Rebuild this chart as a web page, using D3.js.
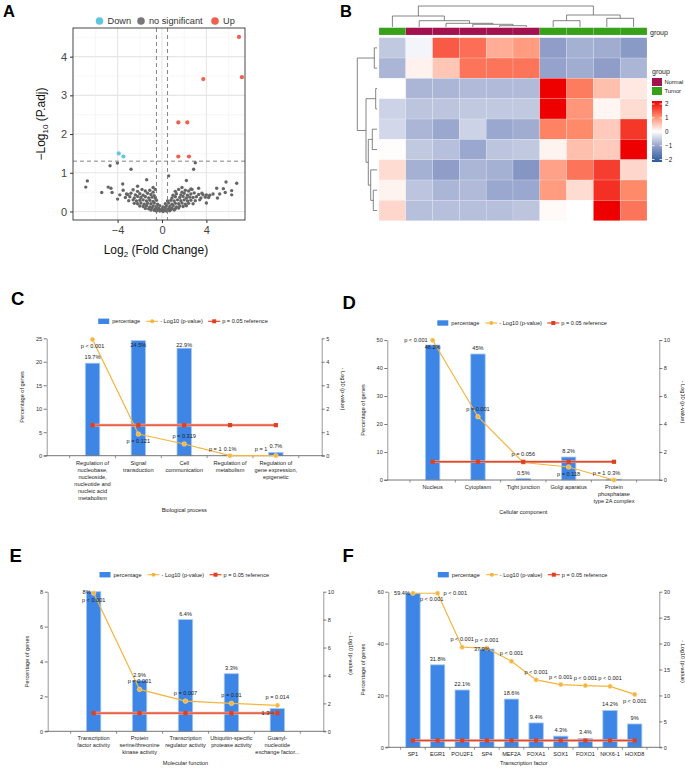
<!DOCTYPE html>
<html>
<head>
<meta charset="utf-8">
<title>volcano heatmap enrichment</title>
<style>
  body { margin: 0; background: #fff; }
  text { font-family: "Liberation Sans", Arial, sans-serif; }
</style>
</head>
<body>
<script src="https://cdnjs.cloudflare.com/ajax/libs/d3/7.8.5/d3.min.js"></script>
<script>
// ---------- panel A data (volcano) ----------
var upPoints = [[6.94,4.51],[7.2,3.47],[3.72,3.42],[1.47,2.30],[2.28,2.30],[1.47,1.42],[2.43,1.42]];
var downPoints = [[-3.9,1.50],[-3.48,1.42]];
var greyPoints = [
  [-4.68,1.18],[-4.02,1.25],[-2.79,1.09],[3.0,1.26],[2.85,1.09],[0.6,0.92],[-1.38,0.82],[2.2,0.80],
  [-6.73,0.79],[-6.87,0.63],[-5.43,0.49],[-4.85,0.63],[-4.6,0.60],[-4.5,0.49],[-3.54,0.71],[-4.0,0.32],
  [-3.8,0.43],[5.77,0.76],[6.73,0.73],[6.28,0.54],[6.28,0.43],[5.53,0.59],[4.93,0.60],[5.7,0.49],
  [4.6,0.45],[4.3,0.42],[4.0,0.43],[3.7,0.43],[4.0,0.22],[3.3,0.6],[1.8,0.62],[2.6,0.58],[-0.8,0.62],
  [-2.2,0.65],[-3.2,0.45],[-3.5,0.55],[5.2,0.45],[5.0,0.35],
  [-2.6,0.56],[-2.2,0.52],[-1.8,0.57],[-1.5,0.53],[-1.1,0.55],[-0.8,0.5],[-0.6,0.57],[1.2,0.52],
  [1.5,0.57],[1.8,0.5],[2.1,0.55],[2.4,0.53],[2.7,0.57],
  [-3.1,0.44],[-2.8,0.47],[-2.4,0.43],[-2.0,0.46],[-1.7,0.42],[-1.3,0.47],[-1.0,0.44],[-0.7,0.41],
  [1.0,0.42],[1.3,0.46],[1.7,0.43],[2.0,0.47],[2.3,0.42],[2.6,0.45],[2.9,0.48],[3.3,0.44],[3.6,0.47],
  [-3.3,0.36],[-2.9,0.38],[-2.5,0.35],[-2.2,0.39],[-1.9,0.36],[-1.5,0.38],[-1.2,0.35],[-0.9,0.37],
  [-0.6,0.34],[0.9,0.35],[1.2,0.38],[1.6,0.36],[1.9,0.39],[2.2,0.35],[2.5,0.37],[2.8,0.36],[3.1,0.38],
  [3.5,0.35],[3.9,0.37],[4.2,0.36],
  [-3.0,0.28],[-2.6,0.3],[-2.3,0.27],[-2.0,0.29],[-1.7,0.3],[-1.4,0.27],[-1.1,0.29],[-0.8,0.26],
  [-0.5,0.29],[0.5,0.27],[0.8,0.29],[1.1,0.27],[1.4,0.3],[1.7,0.28],[2.0,0.3],[2.3,0.27],[2.6,0.29],
  [3.0,0.28],[3.4,0.3],
  [-2.5,0.21],[-2.2,0.2],[-1.9,0.22],[-1.6,0.19],[-1.3,0.21],[-1.0,0.2],[-0.7,0.22],[-0.4,0.19],
  [0.3,0.2],[0.6,0.22],[0.9,0.19],[1.2,0.21],[1.5,0.2],[1.8,0.22],[2.1,0.19],[2.4,0.21],[2.8,0.2],
  [-2.0,0.14],[-1.7,0.13],[-1.4,0.15],[-1.1,0.12],[-0.8,0.14],[-0.5,0.13],[-0.2,0.15],[0.1,0.12],
  [0.4,0.14],[0.7,0.13],[1.0,0.15],[1.3,0.12],[1.6,0.14],[1.9,0.13],[2.2,0.15],
  [-1.5,0.08],[-1.2,0.07],[-0.9,0.09],[-0.6,0.07],[-0.3,0.08],[0.0,0.07],[0.3,0.09],[0.6,0.07],
  [0.9,0.08],[1.2,0.07],[1.5,0.09],
  [-1.0,0.04],[-0.7,0.03],[-0.4,0.05],[-0.1,0.03],[0.2,0.04],[0.5,0.03],[0.8,0.05],[1.1,0.04],
  [-0.5,0.01],[-0.2,0.01],[0.1,0.0],[0.4,0.01],[0.7,0.02]
];
var volcanoXTicks = [-4, 0, 4];
var volcanoYTicks = [0, 1, 2, 3, 4];
var fcCut = 0.5, padjCut = 1.3;

// ---------- panel B data (heatmap) ----------
var colGroups = ["Tumor","Normal","Normal","Normal","Normal","Normal","Tumor","Tumor","Tumor","Tumor"];
var heat = [
  [-0.55,-0.1, 1.35, 1.2, 0.7, 0.85,-1.0,-0.8,-0.85,-1.05],
  [-0.75, 0.12, 0.5, 1.15, 1.15, 1.15,-0.95,-0.85,-1.0,-0.75],
  [ 0.0,-0.75,-0.75,-0.7,-0.7,-0.7, 2.0, 1.1, 0.55, 0.2],
  [-0.45,-0.6,-0.6,-0.55,-0.55,-0.55, 2.1, 0.9, 0.08, 0.3],
  [-0.4,-0.75,-0.9,-0.45,-0.9,-0.85, 1.05, 1.0, 0.45, 1.6],
  [ 0.02,-0.55,-0.65,-0.9,-0.6,-0.55, 0.1, 0.55, 0.45, 2.05],
  [ 0.3,-0.8,-1.0,-0.75,-0.8,-1.1, 0.8, 1.15, 1.55, 0.35],
  [ 0.1,-0.6,-0.75,-0.7,-0.9,-0.9, 0.85, 0.3, 1.65, 1.0],
  [ 0.35,-0.65,-0.65,-0.65,-0.65,-0.6, 0.05, 0.0, 2.2, 1.15]
];
// hclust-style merges: negative = leaf index (1-based), positive = earlier merge
var colMerges = [[-5,-6,1.3],[-4,1,2.7],[-3,2,3.7],[-2,3,6.3],[-1,4,11],[-7,-8,6.3],[-9,-10,8.7],[6,7,12],[5,8,21]];
var rowMerges = [[-1,-2,2.7],[-3,-4,1.3],[-5,-6,4.7],[-8,-9,3.7],[-7,4,6.3],[3,5,8.7],[2,6,11],[1,7,19.7]];
var heatLegendTicks = [2, 1, 0, -1, -2];

// ---------- panels C-F data ----------
var bpCats = [["Regulation of","nucleobase,","nucleoside,","nucleotide and","nucleic acid","metabolism"],
  ["Signal","transduction"],["Cell","communication"],["Regulation of","metabolism"],
  ["Regulation of","gene expression,","epigenetic"]];
var bpPct = [19.7, 24.5, 22.9, 0.1, 0.7];
var bpLogP = [4.95, 0.92, 0.50, 0, 0];
var bpPLabel = ["p < 0.001","p = 0.121","p = 0.319","p = 1","p = 1"];

var ccCats = [["Nucleus"],["Cytoplasm"],["Tight junction"],["Golgi aparatus"],["Protein","phosphatase","type 2A complex"]];
var ccPct = [48.2, 45, 0.5, 8.2, 0.3];
var ccLogP = [9.98, 4.52, 1.25, 0.93, 0];
var ccPLabel = ["p < 0.001","p = 0.001","p = 0.056","p = 0.118","p = 1"];

var mfCats = [["Transcription","factor activity"],["Protein","serine/threonine","kinase activity"],
  ["Transcription","regulator activity"],["Ubiquitin-specific","protease activity"],
  ["Guanyl-","nucleotide","exchange  factor..."]];
var mfPct = [8, 2.9, 6.4, 3.3, 1.3];
var mfLogP = [9.9, 3.0, 2.16, 2.0, 1.86];
var mfPLabel = ["p < 0.001","p = 0.001","p = 0.007","p = 0.01","p = 0.014"];

var tfCats = [["SP1"],["EGR1"],["POU2F1"],["SP4"],["MEF2A"],["FOXA1"],["SOX1"],["FOXO1"],["NKX6-1"],["HOXD8"]];
var tfPct = [59.4, 31.8, 22.1, 37.9, 18.6, 9.4, 4.3, 3.4, 14.2, 9];
var tfLogP = [29.7, 29.7, 19.3, 19.1, 16.6, 13.0, 12.1, 11.9, 11.75, 10.2];
var tfPLabel = ["p < 0.001","p < 0.001","p < 0.001","p < 0.001","p < 0.001","p < 0.001","p < 0.001","p < 0.001","p < 0.001","p < 0.001"];

var refLog = 1.301; // p = 0.05

var svg = d3.select("body").append("svg").attr("width", 685).attr("height", 770);

function letter(t, x, y, size) {
  svg.append("text").text(t).attr("x", x).attr("y", y)
    .attr("font-size", size).attr("font-weight", "bold").attr("fill", "#000");
}

// ================= A: volcano =================
(function () {
  var L = 73, R = 245, T = 28, B = 220;
  var x = d3.scaleLinear().domain([-8.02, 7.48]).range([L, R]);
  var y = d3.scaleLinear().domain([-0.22, 4.74]).range([B, T]);
  var g = svg.append("g");
  [-6, -2, 2, 6].forEach(function (v) {
    g.append("line").attr("x1", x(v)).attr("x2", x(v)).attr("y1", T).attr("y2", B).attr("stroke", "#f2f2f2").attr("stroke-width", 0.6);
  });
  [0.5, 1.5, 2.5, 3.5, 4.5].forEach(function (v) {
    g.append("line").attr("y1", y(v)).attr("y2", y(v)).attr("x1", L).attr("x2", R).attr("stroke", "#f2f2f2").attr("stroke-width", 0.6);
  });
  volcanoXTicks.forEach(function (v) {
    g.append("line").attr("x1", x(v)).attr("x2", x(v)).attr("y1", T).attr("y2", B).attr("stroke", "#e6e6e6").attr("stroke-width", 1.1);
  });
  volcanoYTicks.forEach(function (v) {
    g.append("line").attr("y1", y(v)).attr("y2", y(v)).attr("x1", L).attr("x2", R).attr("stroke", "#e6e6e6").attr("stroke-width", 1.1);
  });
  g.selectAll(".gp").data(greyPoints).enter().append("circle")
    .attr("cx", function (d) { return x(d[0]); }).attr("cy", function (d) { return y(d[1]); })
    .attr("r", 1.7).attr("fill", "#666");
  [-fcCut, fcCut].forEach(function (v) {
    g.append("line").attr("x1", x(v)).attr("x2", x(v)).attr("y1", T).attr("y2", B)
      .attr("stroke", "#777").attr("stroke-width", 0.9).attr("stroke-dasharray", "4,3");
  });
  g.append("line").attr("x1", L).attr("x2", R).attr("y1", y(padjCut)).attr("y2", y(padjCut))
    .attr("stroke", "#777").attr("stroke-width", 0.9).attr("stroke-dasharray", "4,3");
  g.selectAll(".up").data(upPoints).enter().append("circle")
    .attr("cx", function (d) { return x(d[0]); }).attr("cy", function (d) { return y(d[1]); })
    .attr("r", 2.1).attr("fill", "#F0604D");
  g.selectAll(".dn").data(downPoints).enter().append("circle")
    .attr("cx", function (d) { return x(d[0]); }).attr("cy", function (d) { return y(d[1]); })
    .attr("r", 2.1).attr("fill", "#5FC6DF");
  g.append("rect").attr("x", L).attr("y", T).attr("width", R - L).attr("height", B - T)
    .attr("fill", "none").attr("stroke", "#333").attr("stroke-width", 0.9);

  var ax = g.append("g").attr("transform", "translate(0," + B + ")")
    .call(d3.axisBottom(x).tickValues(volcanoXTicks).tickSize(3).tickFormat(d3.format("d")));
  var ay = g.append("g").attr("transform", "translate(" + L + ",0)")
    .call(d3.axisLeft(y).tickValues(volcanoYTicks).tickSize(3).tickFormat(d3.format("d")));
  [ax, ay].forEach(function (a) {
    a.select(".domain").remove();
    a.selectAll("line").attr("stroke", "#333");
    a.selectAll("text").attr("font-size", 11).attr("fill", "#444").attr("font-family", "Liberation Sans, Arial");
  });

  var yl = g.append("text").attr("transform", "translate(45," + ((T + B) / 2) + ") rotate(-90)")
    .attr("text-anchor", "middle").attr("font-size", 12).attr("fill", "#111");
  yl.append("tspan").text("\u2212Log");
  yl.append("tspan").text("10").attr("font-size", 8).attr("dy", 3);
  yl.append("tspan").text(" (P.adj)").attr("dy", -3);
  var xl = g.append("text").attr("x", x(-0.55)).attr("y", 254)
    .attr("text-anchor", "middle").attr("font-size", 12).attr("fill", "#111");
  xl.append("tspan").text("Log");
  xl.append("tspan").text("2").attr("font-size", 8).attr("dy", 3);
  xl.append("tspan").text(" (Fold Change)").attr("dy", -3);

  var leg = [["Down", "#5FC6DF", 99.5], ["no significant", "#777", 141], ["Up", "#F0604D", 215]];
  leg.forEach(function (d) {
    g.append("circle").attr("cx", d[2]).attr("cy", 21).attr("r", 3.8).attr("fill", d[1]);
    g.append("text").text(d[0]).attr("x", d[2] + 8).attr("y", 24.3).attr("font-size", 9.2).attr("fill", "#333");
  });
  letter("A", 3, 17, 16.5);
})();

// ================= B: heatmap =================
(function () {
  var L = 379, R = 647, T = 37.7, B = 220.7;
  var cx = d3.scaleBand().domain(d3.range(10)).range([L, R]);
  var ry = d3.scaleBand().domain(d3.range(9)).range([T, B]);
  var col = d3.scaleLinear().domain([-2, -1, 0, 1, 2])
    .range(["#2A5A9E", "#8F9DC8", "#FFFFFF", "#FF8A6A", "#EE0000"]).clamp(true);
  var grpCol = { Normal: "#A3124E", Tumor: "#37A11A" };
  var g = svg.append("g");
  heat.forEach(function (row, i) {
    row.forEach(function (v, j) {
      g.append("rect").attr("x", cx(j)).attr("y", ry(i)).attr("width", cx.bandwidth()).attr("height", ry.bandwidth())
        .attr("fill", col(v)).attr("stroke", "#ffffff").attr("stroke-opacity", 0.35).attr("stroke-width", 0.5);
    });
  });
  colGroups.forEach(function (gr, j) {
    g.append("rect").attr("x", cx(j)).attr("y", 27.7).attr("width", cx.bandwidth()).attr("height", 7.3)
      .attr("fill", grpCol[gr]).attr("stroke", "#fff").attr("stroke-opacity", 0.3).attr("stroke-width", 0.4);
  });
  g.append("text").text("group").attr("x", 650).attr("y", 34.5).attr("font-size", 7).attr("fill", "#222");

  // dendrograms
  function drawTree(merges, leafPos, hPos, horizontal) {
    var pos = [], hts = [];
    merges.forEach(function (m) {
      var pa = m[0] < 0 ? leafPos(-m[0] - 1) : pos[m[0] - 1];
      var pb = m[1] < 0 ? leafPos(-m[1] - 1) : pos[m[1] - 1];
      var ha = m[0] < 0 ? 0 : hts[m[0] - 1];
      var hb = m[1] < 0 ? 0 : hts[m[1] - 1];
      var h = m[2];
      pos.push((pa + pb) / 2); hts.push(h);
      var p = d3.path();
      if (!horizontal) {
        p.moveTo(pa, hPos(ha)); p.lineTo(pa, hPos(h)); p.lineTo(pb, hPos(h)); p.lineTo(pb, hPos(hb));
      } else {
        p.moveTo(hPos(ha), pa); p.lineTo(hPos(h), pa); p.lineTo(hPos(h), pb); p.lineTo(hPos(hb), pb);
      }
      g.append("path").attr("d", p.toString()).attr("fill", "none").attr("stroke", "#666").attr("stroke-width", 0.8);
    });
  }
  drawTree(colMerges, function (i) { return cx(i) + cx.bandwidth() / 2; },
    d3.scaleLinear().domain([0, 21]).range([27, 6]), false);
  drawTree(rowMerges, function (i) { return ry(i) + ry.bandwidth() / 2; },
    d3.scaleLinear().domain([0, 19.7]).range([377, 357.3]), true);

  // legend
  g.append("text").text("group").attr("x", 652).attr("y", 73.5).attr("font-size", 7).attr("fill", "#222");
  [["Normal", 78], ["Tumor", 87]].forEach(function (d) {
    g.append("rect").attr("x", 652).attr("y", d[1]).attr("width", 10).attr("height", 8).attr("fill", grpCol[d[0]]);
    g.append("text").text(d[0]).attr("x", 664.5).attr("y", d[1] + 6).attr("font-size", 5.8).attr("fill", "#222");
  });
  var ly = d3.scaleLinear().domain([2, -2]).range([104, 159.5]);
  var grad = svg.append("defs").append("linearGradient").attr("id", "hmgrad")
    .attr("x1", 0).attr("x2", 0).attr("y1", 0).attr("y2", 1);
  [2, 1, 0, -1, -2].forEach(function (v, i) {
    grad.append("stop").attr("offset", (i * 25) + "%").attr("stop-color", col(v));
  });
  g.append("rect").attr("x", 652).attr("y", 101).attr("width", 10).attr("height", 61).attr("fill", "url(#hmgrad)");
  heatLegendTicks.forEach(function (v) {
    g.append("line").attr("x1", 652).attr("x2", 654.5).attr("y1", ly(v)).attr("y2", ly(v)).attr("stroke", "#fff").attr("stroke-width", 0.8);
    g.append("line").attr("x1", 659.5).attr("x2", 662).attr("y1", ly(v)).attr("y2", ly(v)).attr("stroke", "#fff").attr("stroke-width", 0.8);
    g.append("text").text(v < 0 ? "\u2212" + (-v) : v).attr("x", 665).attr("y", ly(v) + 2.3)
      .attr("font-size", 6.3).attr("fill", "#222");
  });
  letter("B", 340, 17, 16.5);
})();

// ================= C-F: bar + line panels =================
function barPanel(o) {
  var g = svg.append("g");
  var keys = o.cats.map(function (c, i) { return i; });
  var x = d3.scalePoint().domain(keys).range([o.left, o.right]).padding(1);
  var yL = d3.scaleLinear().domain([0, o.pctMax]).range([o.bottom, o.top]);
  var yR = d3.scaleLinear().domain([0, o.logMax]).range([o.bottom, o.top]);
  var step = x.step();
  var fs = 5.6;

  // bars
  g.selectAll(".bar").data(o.pct).enter().append("rect")
    .attr("x", function (d, i) { return x(i) - 7.2; }).attr("width", 14.4)
    .attr("y", function (d) { return yL(d); })
    .attr("height", function (d) { return o.bottom - yL(d); })
    .attr("fill", "#3D86E6").attr("stroke", "#A9C8F2").attr("stroke-width", 0.8);

  // axes
  var aL = g.append("g").attr("transform", "translate(" + o.left + ",0)")
    .call(d3.axisLeft(yL).tickValues(o.pctTicks).tickSize(3).tickSizeOuter(0).tickFormat(d3.format("d")));
  var aR = g.append("g").attr("transform", "translate(" + o.right + ",0)")
    .call(d3.axisRight(yR).tickValues(o.logTicks).tickSize(3).tickSizeOuter(0).tickFormat(d3.format("d")));
  [aL, aR].forEach(function (a) {
    a.select(".domain").attr("stroke", "#999").attr("stroke-width", 1);
    a.selectAll(".tick line").attr("stroke", "#777");
    a.selectAll("text").attr("font-size", fs).attr("fill", "#333").attr("font-family", "Liberation Sans, Arial");
  });
  aL.selectAll("text").attr("x", -4.5);
  aR.selectAll("text").attr("x", 4.5);
  g.append("line").attr("x1", o.left - 3).attr("x2", o.right + 3).attr("y1", o.bottom).attr("y2", o.bottom)
    .attr("stroke", "#666").attr("stroke-width", 0.9);
  var bnd = [];
  keys.forEach(function (k) { bnd.push(x(k) - step / 2); });
  bnd.push(x(keys[keys.length - 1]) + step / 2);
  bnd.forEach(function (bx) {
    g.append("line").attr("x1", bx).attr("x2", bx).attr("y1", o.bottom).attr("y2", o.bottom + 2.5)
      .attr("stroke", "#666").attr("stroke-width", 0.7);
  });

  // category labels
  o.cats.forEach(function (lines, i) {
    var t = g.append("text").attr("text-anchor", "middle").attr("font-size", fs).attr("fill", "#222");
    lines.forEach(function (ln, j) {
      t.append("tspan").text(ln).attr("x", x(i)).attr("y", o.bottom + 9 + j * 7);
    });
  });
  g.append("text").text(o.xTitle).attr("x", (o.left + o.right) / 2).attr("y", o.bottom + o.xTitleDy)
    .attr("text-anchor", "middle").attr("font-size", fs).attr("fill", "#222");
  g.append("text").text("Percentage of genes")
    .attr("transform", "translate(" + (o.left + o.yTitleDx) + "," + ((o.top + o.bottom) / 2) + ") rotate(-90)")
    .attr("text-anchor", "middle").attr("font-size", fs).attr("fill", "#222");
  g.append("text").text("- Log10 (p-value)")
    .attr("transform", "translate(" + (o.right + o.rTitleDx) + "," + ((o.top + o.bottom) / 2 - 8) + ") rotate(90)")
    .attr("text-anchor", "middle").attr("font-size", fs).attr("fill", "#222");

  // -log10 p line
  var line = d3.line().x(function (d, i) { return x(i); }).y(function (d) { return yR(d); });
  g.append("path").attr("d", line(o.logp)).attr("fill", "none").attr("stroke", "#F5B53C").attr("stroke-width", 1.2);
  g.selectAll(".pt").data(o.logp).enter().append("circle")
    .attr("cx", function (d, i) { return x(i); }).attr("cy", function (d) { return yR(d); })
    .attr("r", 2.3).attr("fill", "#F5B53C").attr("stroke", "#FBDFA6").attr("stroke-width", 0.6);

  // reference line p = 0.05
  var refData = o.logp.map(function () { return refLog; });
  g.append("path").attr("d", line(refData)).attr("fill", "none").attr("stroke", "#F3B3A5").attr("stroke-width", 2.6);
  g.append("path").attr("d", line(refData)).attr("fill", "none").attr("stroke", "#E2482C").attr("stroke-width", 1.4);
  g.selectAll(".sq").data(refData).enter().append("rect")
    .attr("x", function (d, i) { return x(i) - 2.1; }).attr("y", function (d) { return yR(d) - 2.1; })
    .attr("width", 4.2).attr("height", 4.2).attr("fill", "#E0401F");

  // percentage labels
  o.pct.forEach(function (v, i) {
    var pl = (o.pctPlace && o.pctPlace[i]) || "above";
    var px = x(i), py = yL(v), anchor = "middle";
    if (pl === "above") { py = Math.max(py - 6, o.top + 7); }
    else if (pl === "left") { px -= 3; anchor = "end"; }
    else if (pl === "leftlow") { px -= 3; py += 4; anchor = "end"; }
    else if (pl === "mid") { px -= 5; }
    g.append("text").text(v + "%").attr("x", px).attr("y", py).attr("dy", "0.35em")
      .attr("text-anchor", anchor).attr("font-size", fs).attr("fill", "#222");
  });
  // p labels
  o.pLabels.forEach(function (s, i) {
    var pl = (o.pPlace && o.pPlace[i]) || "above";
    var px = x(i), py = yR(o.logp[i]), anchor = "middle";
    if (pl === "above") { py -= 8; }
    else if (pl === "below") { py += 7; }
    else if (pl === "left") { px -= 8.5; py -= 7; anchor = "end"; }
    else if (pl === "left0") { px -= 5; anchor = "end"; }
    else if (pl === "right") { px += 6; anchor = "start"; }
    else if (pl === "rightbelow") { px += 7; py += 6; anchor = "start"; }
    g.append("text").text(s).attr("x", px).attr("y", py).attr("dy", "0.35em")
      .attr("text-anchor", anchor).attr("font-size", fs).attr("fill", "#222");
  });

  // legend
  var cxm = (o.left + o.right) / 2, ly = o.top - 17;
  g.append("rect").attr("x", cxm - 86).attr("y", ly - 2.7).attr("width", 11).attr("height", 5.4).attr("fill", "#3D86E6");
  g.append("text").text("percentage").attr("x", cxm - 72).attr("y", ly).attr("dy", "0.35em").attr("font-size", fs).attr("fill", "#222");
  g.append("line").attr("x1", cxm - 38).attr("x2", cxm - 26).attr("y1", ly).attr("y2", ly).attr("stroke", "#F5B53C").attr("stroke-width", 1.1);
  g.append("circle").attr("cx", cxm - 32).attr("cy", ly).attr("r", 2).attr("fill", "#F5B53C");
  g.append("text").text("- Log10 (p-value)").attr("x", cxm - 24).attr("y", ly).attr("dy", "0.35em").attr("font-size", fs).attr("fill", "#222");
  g.append("line").attr("x1", cxm + 24).attr("x2", cxm + 36).attr("y1", ly).attr("y2", ly).attr("stroke", "#E2482C").attr("stroke-width", 1.2);
  g.append("rect").attr("x", cxm + 28).attr("y", ly - 2).attr("width", 4).attr("height", 4).attr("fill", "#E0401F");
  g.append("text").text("p = 0.05 reference").attr("x", cxm + 38).attr("y", ly).attr("dy", "0.35em").attr("font-size", fs).attr("fill", "#222");

  letter(o.letter, o.letterX, o.letterY, 18.5);
}

barPanel({
  cats: bpCats, pct: bpPct, logp: bpLogP, pLabels: bpPLabel,
  left: 46.7, right: 321.7, top: 338.3, bottom: 455.7,
  pctMax: 25, pctTicks: [0, 5, 10, 15, 20, 25], logMax: 5, logTicks: [0, 1, 2, 3, 4, 5],
  pPlace: ["below", "below", "above", "left", "left"],
  xTitle: "Biological process", xTitleDy: 56, yTitleDx: -22.5, rTitleDx: 19.5,
  letter: "C", letterX: 11, letterY: 305
});
barPanel({
  cats: ccCats, pct: ccPct, logp: ccLogP, pLabels: ccPLabel,
  left: 387.3, right: 659.3, top: 340, bottom: 480,
  pctMax: 50, pctTicks: [0, 10, 20, 30, 40, 50], logMax: 10, logTicks: [0, 2, 4, 6, 8, 10],
  pPlace: ["left0", "above", "above", "below", "left"],
  xTitle: "Cellular component", xTitleDy: 33.5, yTitleDx: -22.3, rTitleDx: 22,
  letter: "D", letterX: 342.5, letterY: 308.5
});
barPanel({
  cats: mfCats, pct: mfPct, logp: mfLogP, pLabels: mfPLabel,
  left: 47.7, right: 323.3, top: 591.7, bottom: 731.3,
  pctMax: 8, pctTicks: [0, 2, 4, 6, 8], logMax: 10, logTicks: [0, 2, 4, 6, 8, 10],
  pctPlace: ["left", "above", "above", "above", "leftlow"],
  pPlace: ["below", "above", "above", "above", "above"],
  xTitle: "Molecular function", xTitleDy: 33.7, yTitleDx: -18.4, rTitleDx: 26,
  letter: "E", letterX: 9.5, letterY: 561.5
});
barPanel({
  cats: tfCats, pct: tfPct, logp: tfLogP, pLabels: tfPLabel,
  left: 388.3, right: 659.3, top: 591.7, bottom: 747.3,
  pctMax: 60, pctTicks: [0, 20, 40, 60], logMax: 30, logTicks: [0, 5, 10, 15, 20, 25, 30],
  pctPlace: ["left", "above", "above", "mid", "above", "above", "above", "above", "above", "above"],
  pPlace: ["rightbelow", "right", "above", "above", "above", "above", "above", "above", "above", "below"],
  xTitle: "Transcription factor", xTitleDy: 18, yTitleDx: -23.3, rTitleDx: 22,
  letter: "F", letterX: 342.5, letterY: 561.5
});
</script>
</body>
</html>
